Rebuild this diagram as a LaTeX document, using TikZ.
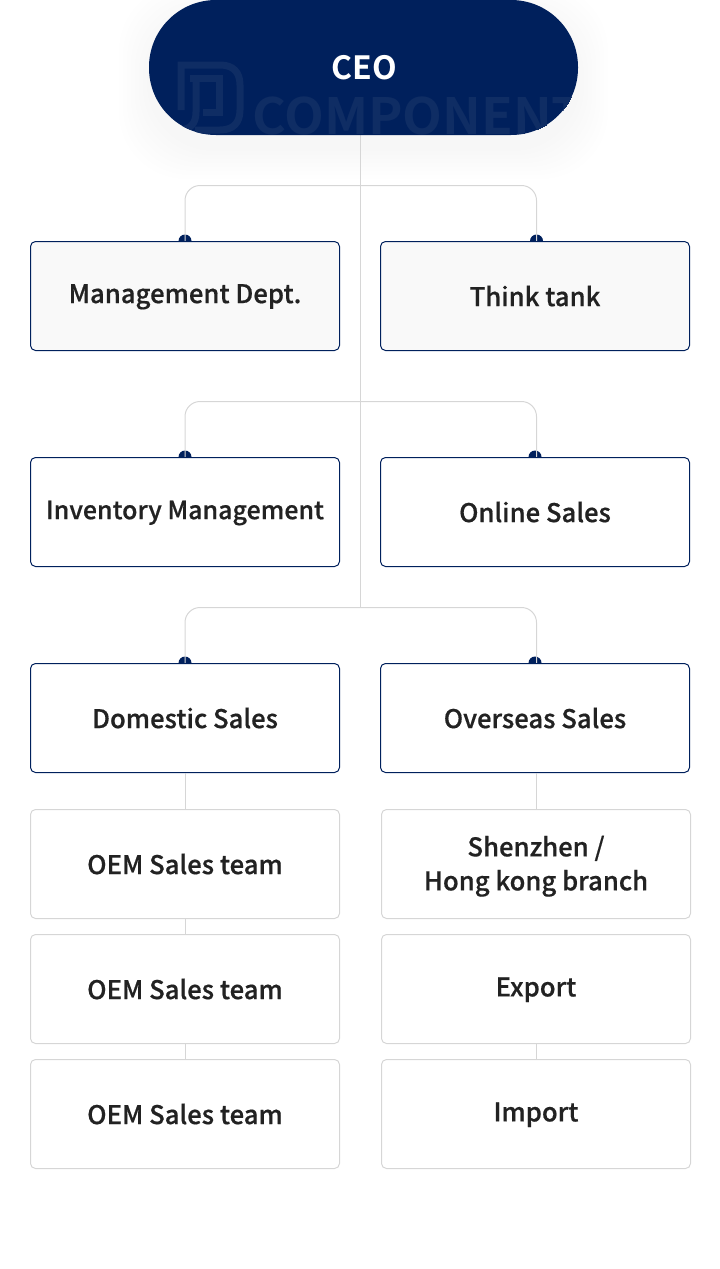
\documentclass[tikz,border=0pt]{standalone}
\usepackage{fontspec}
\setmainfont[FakeBold=0.55]{Noto Sans CJK KR Medium}
\newfontfamily\ceofont{Noto Sans CJK KR Bold}
\definecolor{navy}{HTML}{00205C}
\definecolor{logomark}{HTML}{0F2D64}
\definecolor{greyline}{HTML}{D6D6D6}
\definecolor{txt}{HTML}{222222}
\begin{document}
\begin{tikzpicture}[x=1pt,y=-1pt,
  main box/.style={rectangle,draw=navy,line width=1pt,rounded corners=5pt,minimum width=309pt,minimum height=109pt,
    inner sep=0pt,align=center,text=txt,font=\fontsize{25.7}{34}\selectfont,
    execute at begin node={\rule{0pt}{20.5pt}}},
  head box/.style={main box,fill=black!2.2},
  team box/.style={main box,draw=greyline},
  dot/.style={circle,fill=navy,inner sep=0pt,minimum size=13pt},
  conn/.style={draw=greyline,line width=1pt},
  logo line/.style={draw=logomark,line width=7pt}]

  \useasboundingbox (0,0) rectangle (720,1269);

  % soft shadow under the pill
  \begin{scope}
    \clip (0,0) rectangle (720,1269);
    \foreach \s in {30,26,...,2}
      \fill[black,opacity=0.0028,rounded corners=67pt] (149-\s,-\s+14) rectangle (578+\s,135+\s+14);
  \end{scope}

  \node[dot] (d1) at (185,241) {};
  \node[dot] (d2) at (536.5,241) {};
  \node[dot] (d3) at (185,457) {};
  \node[dot] (d4) at (535,457) {};
  \node[dot] (d5) at (185,663) {};
  \node[dot] (d6) at (535,663) {};

  \coordinate (j1) at (360.5,185.5);
  \coordinate (j2) at (360.5,401.5);
  \coordinate (j3) at (360.5,607.5);
  \coordinate (top) at (360.5,134);

  \path[conn] (top) edge (j3);
  \draw[conn,rounded corners=15pt] (d1.center) |- (j1) -| (d2.center);
  \draw[conn,rounded corners=15pt] (d3.center) |- (j2) -| (536.5,457);
  \draw[conn,rounded corners=15pt] (d5.center) |- (j3) -| (536.5,663);

  \node[head box] (0) at (185,296) {Management Dept.};
  \node[head box] (1) at (535,296) {Think tank};
  \node[main box,fill=white,font=\fontsize{25}{34}\selectfont] (2) at (185,512) {Inventory Management};
  \node[main box,fill=white] (3) at (535,512) {Online Sales};
  \node[main box,fill=white] (4) at (185,718) {Domestic Sales};
  \node[main box,fill=white] (5) at (535,718) {Overseas Sales};
  \node[team box] (6) at (185,864) {OEM Sales team};
  \node[team box] (7) at (185,989) {OEM Sales team};
  \node[team box] (8) at (185,1114) {OEM Sales team};
  \node[team box] (9) at (536,864) {\rule{0pt}{25pt}Shenzhen /\\Hong kong branch};
  \node[team box] (10) at (536,989) {Export};
  \node[team box] (11) at (536,1114) {Import};

  \path[conn]
    (4) edge (6)
    (6) edge (7)
    (7) edge (8)
    (536,773) edge (9)
    (10) edge (11);

  % pill with the faint mark clipped inside
  \fill[navy,rounded corners=67pt] (149,0) rectangle (578,135);
  \begin{scope}
    \clip[rounded corners=67pt] (149,0) rectangle (578,135);
    \draw[logo line] (181,110) -- (181,65) -- (220,65) .. controls (233,65) and (240,72) .. (240,85) -- (240,110)
      .. controls (240,123) and (233,130) .. (220,130) -- (195,130);
    \draw[logo line] (190,78) -- (219,78) -- (219,112) -- (203,112);
    \draw[logo line] (196,80) -- (196,112) .. controls (196,124) and (190,130) .. (178,130) -- (165,130);
    \node[text=logomark,anchor=west,inner sep=0pt,xscale=1.035,font=\ceofont\fontsize{50}{50}\selectfont] (wm) at (252,116) {COMPONENT};
  \end{scope}
  \node[text=white,font=\ceofont\fontsize{32}{32}\selectfont] (ceo) at (364,68) {CEO};
\end{tikzpicture}
\end{document}
